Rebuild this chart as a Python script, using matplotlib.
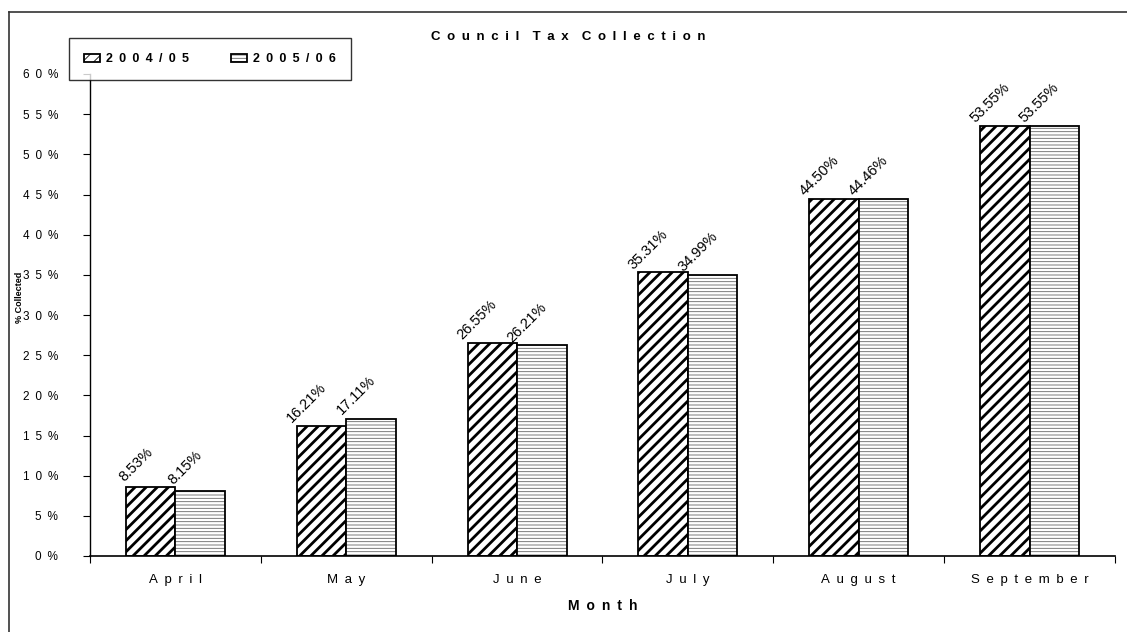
import matplotlib
matplotlib.use("Agg")
import matplotlib.pyplot as plt
import numpy as np
from matplotlib.lines import Line2D

plt.rcParams['font.family'] = ['Liberation Sans', 'DejaVu Sans']

months = ["April", "May", "June", "July", "August", "September"]
series_names = ["2004/05", "2005/06"]
s2004 = [8.53, 16.21, 26.55, 35.31, 44.50, 53.55]
s2005 = [8.15, 17.11, 26.21, 34.99, 44.46, 53.55]
yticks = [0, 5, 10, 15, 20, 25, 30, 35, 40, 45, 50, 55, 60]

EN = "\u2002"


def spaced(s, gap=EN, word_gap=EN + EN):
    words = s.split(" ")
    return word_gap.join(gap.join(w) for w in words)


W, H = 1127, 632
fig = plt.figure(figsize=(W / 100, H / 100), dpi=100)
ax = fig.add_axes([90 / W, 1 - 556 / H, (1115 - 90) / W, (556 - 74) / H])

x = np.arange(len(months))
bw = 0.29

plt.rcParams['hatch.linewidth'] = 2.0
b1 = ax.bar(x - bw / 2, s2004, bw, facecolor="white", edgecolor="black",
            linewidth=1.3, hatch="///", label=spaced(series_names[0]))
plt.rcParams['hatch.linewidth'] = 0.6
b2 = ax.bar(x + bw / 2, s2005, bw, facecolor="white", edgecolor="black",
            linewidth=1.3, hatch="-----", label=spaced(series_names[1]))
for r in b1:
    if hasattr(r, "set_hatch_linewidth"):
        r.set_hatch_linewidth(2.0)
    r._hatch_color = (0, 0, 0, 1.0)
for r in b2:
    if hasattr(r, "set_hatch_linewidth"):
        r.set_hatch_linewidth(0.6)
    r._hatch_color = (0.4, 0.4, 0.4, 1.0)

for bars, vals in ((b1, s2004), (b2, s2005)):
    for r, v in zip(bars, vals):
        cx = r.get_x() + r.get_width() / 2
        ax.annotate(f"{v:.2f}%", (cx, v), xytext=(-15, 23), textcoords="offset pixels",
                    rotation=45, ha="center", va="center", fontsize=10.5)

ax.set_xlim(-0.5, len(months) - 0.5)
ax.set_ylim(0, 60)
ax.set_yticks(yticks)
ax.set_yticklabels([spaced(f"{t}%") for t in yticks], fontsize=8.5)
ax.set_xticks(np.arange(len(months) + 1) - 0.5)
ax.set_xticklabels([])
ax.set_xticks(x, minor=True)
ax.set_xticklabels([spaced(m) for m in months], minor=True, fontsize=9.5)
ax.tick_params(axis="x", which="minor", length=0, pad=13)
ax.tick_params(axis="x", which="major", length=5, direction="out")
ax.tick_params(axis="y", length=5, direction="out", pad=18)

for s in ("top", "right"):
    ax.spines[s].set_visible(False)
ax.spines["left"].set_linewidth(1.0)
ax.spines["bottom"].set_linewidth(1.2)

ax.set_xlabel(spaced("Month"), fontsize=10, fontweight="bold", labelpad=9)
fig.text(20 / W, 1 - 297 / H, "% Collected", rotation=90, fontsize=6.5,
         fontweight="bold", ha="center", va="center")
fig.text(568 / W, 1 - 37 / H, spaced("Council Tax Collection"), fontsize=9.5,
         fontweight="bold", ha="center", va="center")

leg = ax.legend(loc="upper left", bbox_to_anchor=(69 / W, 1 - 38 / H),
                bbox_transform=fig.transFigure, ncol=2, frameon=True, fancybox=False,
                edgecolor="black", prop={"weight": "bold", "size": 9},
                handlelength=1.3, handleheight=0.6, columnspacing=3.3, handletextpad=0.5,
                borderpad=1.2, borderaxespad=0)
leg.get_frame().set_linewidth(1.0)

fig.add_artist(Line2D([8.5 / W, 8.5 / W], [0, 1 - 12 / H], transform=fig.transFigure,
                      color="#333333", linewidth=1.2))
fig.add_artist(Line2D([8.5 / W, 1], [1 - 12 / H, 1 - 12 / H], transform=fig.transFigure,
                      color="#333333", linewidth=1.2))

fig.savefig("out.png", dpi=100)
